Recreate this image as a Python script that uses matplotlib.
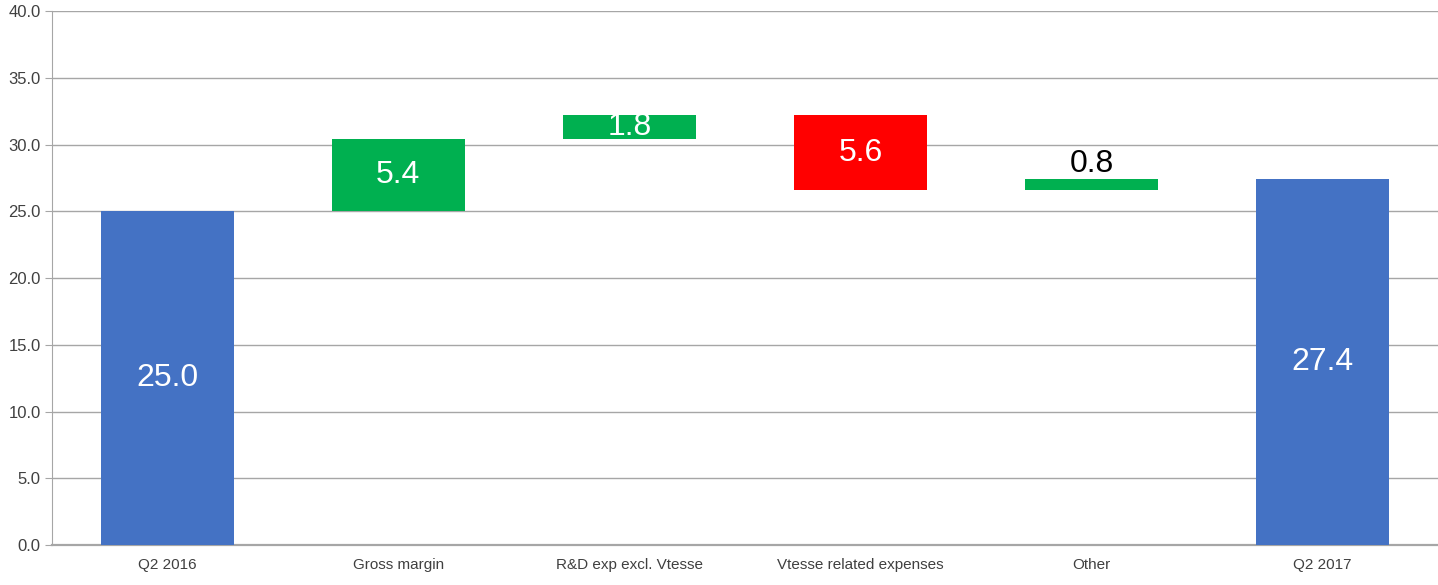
import matplotlib
matplotlib.use("Agg")
import matplotlib.pyplot as plt
import numpy as np

plt.rcParams['font.family'] = ['Liberation Sans', 'DejaVu Sans']

# waterfall data
categories = ['Q2 2016', 'Gross margin', 'R&D exp excl. Vtesse',
              'Vtesse related expenses', 'Other', 'Q2 2017']
changes = [25.0, 5.4, 1.8, -5.6, 0.8, 27.4]
is_total = [True, False, False, False, False, True]

BLUE = '#4472C4'
GREEN = '#00B050'
RED = '#FF0000'

# work out bottoms/heights for the floating bars
bottoms, heights, colors = [], [], []
running = 0.0
for v, tot in zip(changes, is_total):
    if tot:
        bottoms.append(0.0)
        heights.append(v)
        colors.append(BLUE)
        running = v
    else:
        if v >= 0:
            bottoms.append(running)
            colors.append(GREEN)
        else:
            bottoms.append(running + v)
            colors.append(RED)
        heights.append(abs(v))
        running += v

fig = plt.figure(figsize=(14.38, 5.85), dpi=100)
ax = fig.add_axes([0.036, 0.068, 0.964, 0.913])

x = np.arange(len(categories))
ax.bar(x, heights, bottom=bottoms, width=0.576, color=colors, zorder=3)

# value labels
for i, (b, h) in enumerate(zip(bottoms, heights)):
    txt = f'{abs(changes[i]):.1f}'
    if h < 1.0:
        ax.text(i, b + h + 0.05, txt, ha='center', va='bottom',
                fontsize=23, color='black', zorder=4)
    else:
        ax.text(i, b + h / 2, txt, ha='center', va='center',
                fontsize=23, color='white', zorder=4)

ax.set_xlim(-0.5, len(categories) - 0.5)
ax.set_ylim(0, 40)
ax.set_yticks(np.arange(0, 40.1, 5))
ax.set_yticklabels([f'{t:.1f}' for t in np.arange(0, 40.1, 5)])
ax.set_xticks(x)
ax.set_xticklabels(categories)

ax.grid(axis='y', color='#A6A6A6', linewidth=1.0, zorder=0)
for s in ['top', 'right']:
    ax.spines[s].set_visible(False)
ax.spines['left'].set_color('#A6A6A6')
ax.spines['bottom'].set_color('#A6A6A6')
ax.spines['bottom'].set_linewidth(1.6)
ax.tick_params(axis='y', colors='#A6A6A6', labelcolor='#404040',
               labelsize=12, length=5, pad=3)
ax.tick_params(axis='x', length=0, labelcolor='#404040', labelsize=11, pad=9)

plt.savefig('out.png', dpi=100)
